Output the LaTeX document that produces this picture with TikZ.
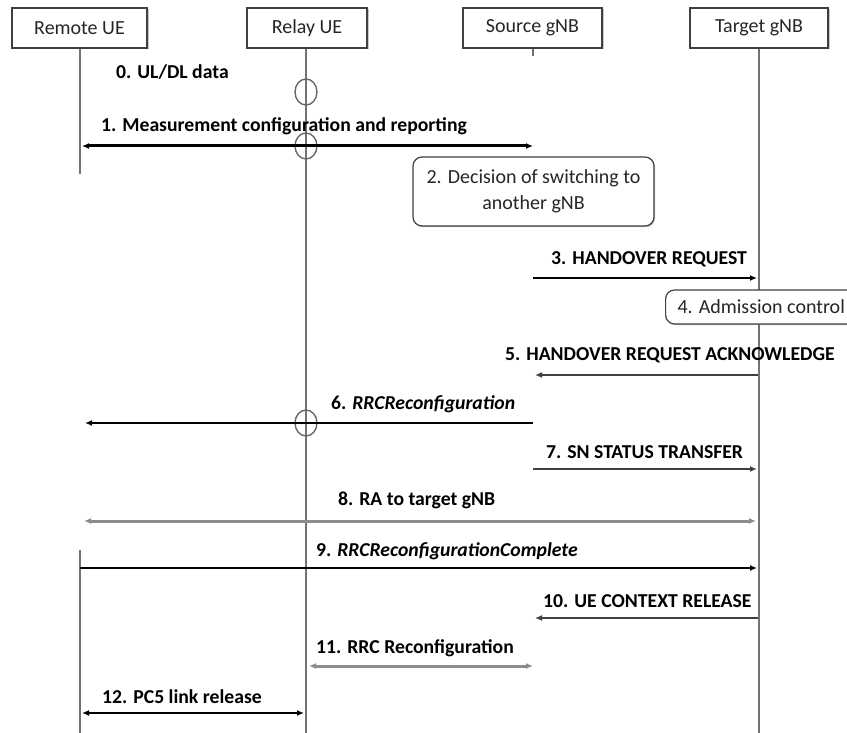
\documentclass[tikz,border=0pt]{standalone}
\usepackage{fontspec}
\setmainfont{Carlito}
\usetikzlibrary{arrows.meta,shapes.geometric,shadows}

\begin{document}
\begin{tikzpicture}[x=1pt, y=-1pt,
  hdr/.style={draw=black!75, line width=1.2pt, fill=white, rectangle, minimum height=40pt,
              inner sep=0pt, text=black!85, font=\fontsize{20}{24}\selectfont,
              drop shadow={shadow xshift=1.5pt, shadow yshift=-1.5pt, opacity=.45}},
  note/.style={draw=black!75, line width=1.2pt, fill=white, rounded corners=9pt, align=center,
               text=black!85, font=\fontsize{20}{26}\selectfont,
               drop shadow={shadow xshift=1.2pt, shadow yshift=-1.2pt, opacity=.45}},
  life/.style={draw=black!55, line width=1.5pt},
  lbl/.style={anchor=west, inner sep=0pt, font=\fontsize{19.7}{22}\selectfont\bfseries},
  tip/.style={-{Latex[length=7pt,width=6pt]}},
  both/.style={{Latex[length=7pt,width=6pt]}-{Latex[length=7pt,width=6pt]}},
  strong/.style={line width=2.6pt, black},
  plain/.style={line width=1.6pt, black!75},
  soft/.style={line width=3pt, black!45},
  ring/.style={draw=black!60, line width=1.4pt, ellipse, minimum width=22pt, minimum height=26pt, inner sep=0pt}
]
\useasboundingbox (0,0) rectangle (847,733);

\node[hdr, minimum width=135pt] (remote) at (79.5,28) {Remote UE};
\node[hdr, minimum width=120pt] (relay)  at (307,28)  {Relay UE};
\node[hdr, minimum width=139pt] (source) at (532.5,28) {Source gNB};
\node[hdr, minimum width=138pt] (target) at (759,28)  {Target gNB};

\coordinate (remote-top) at (80,174);
\coordinate (remote-low) at (80,550);
\coordinate (remote-end) at (80,733);
\coordinate (relay-end)  at (306,733);
\coordinate (source-top) at (533,56);
\coordinate (target-end) at (759,733);

\draw[life] (remote.south -| remote-top) -- (remote-top);
\draw[life] (remote-low) -- (remote-end);
\draw[life] (relay.south -| relay-end) -- (relay-end);
\draw[life] (source.south -| source-top) -- (source-top);
\draw[life] (target.south -| target-end) -- (target-end);

\node[note, minimum width=241pt, minimum height=69pt] (decide) at (533.5,191.5)
  {2. Decision of switching to\\another gNB};
\node[note, anchor=west, minimum height=34pt, inner xsep=12pt] (admit) at (665,307)
  {4. Admission control};

\node[ring] (ring0) at (306,92)  {};
\node[ring] (ring1) at (306,146) {};
\node[ring] (ring6) at (306,423) {};

\coordinate (m1a)  at (82,146);  \coordinate (m1b)  at (533,146);
\coordinate (m3a)  at (533,278); \coordinate (m3b)  at (757,278);
\coordinate (m5a)  at (758,375); \coordinate (m5b)  at (535,375);
\coordinate (m6a)  at (533,423); \coordinate (m6b)  at (85,423);
\coordinate (m7a)  at (533,469); \coordinate (m7b)  at (757,469);
\coordinate (m8a)  at (84,521);  \coordinate (m8b)  at (756,521);
\coordinate (m9a)  at (80,568);  \coordinate (m9b)  at (757,568);
\coordinate (m10a) at (758,618); \coordinate (m10b) at (535,618);
\coordinate (m11a) at (309,666); \coordinate (m11b) at (533,666);
\coordinate (m12a) at (82,713);  \coordinate (m12b) at (304,713);

\draw[both, strong, line width=3pt] (m1a) -- (m1b);
\draw[tip, strong] (m3a) -- (m3b);
\draw[tip, plain] (m5a) -- (m5b);
\draw[tip, strong] (m6a) -- (m6b);
\draw[tip, plain] (m7a) -- (m7b);
\draw[both, soft] (m8a) -- (m8b);
\draw[tip, strong, line width=2pt] (m9a) -- (m9b);
\draw[tip, plain, line width=2pt] (m10a) -- (m10b);
\draw[both, soft] (m11a) -- (m11b);
\draw[both, strong, line width=2pt] (m12a) -- (m12b);

\node[lbl] (l0)  at (116,72)  {0. UL/DL data};
\node[lbl] (l1)  at (101,126) {1. Measurement configuration and reporting};
\node[lbl] (l3)  at (551,259) {3. HANDOVER REQUEST};
\node[lbl] (l5)  at (505,355) {5. HANDOVER REQUEST ACKNOWLEDGE};
\node[lbl] (l6)  at (331,404) {6. \textit{RRCReconfiguration}};
\node[lbl] (l7)  at (546,452) {7. SN STATUS TRANSFER};
\node[lbl] (l8)  at (338,500) {8. RA to target gNB};
\node[lbl] (l9)  at (316,551) {9. \textit{RRCReconfigurationComplete}};
\node[lbl] (l10) at (543,601) {10. UE CONTEXT RELEASE};
\node[lbl] (l11) at (316,648) {11. RRC Reconfiguration};
\node[lbl] (l12) at (102,697) {12. PC5 link release};
\end{tikzpicture}
\end{document}
